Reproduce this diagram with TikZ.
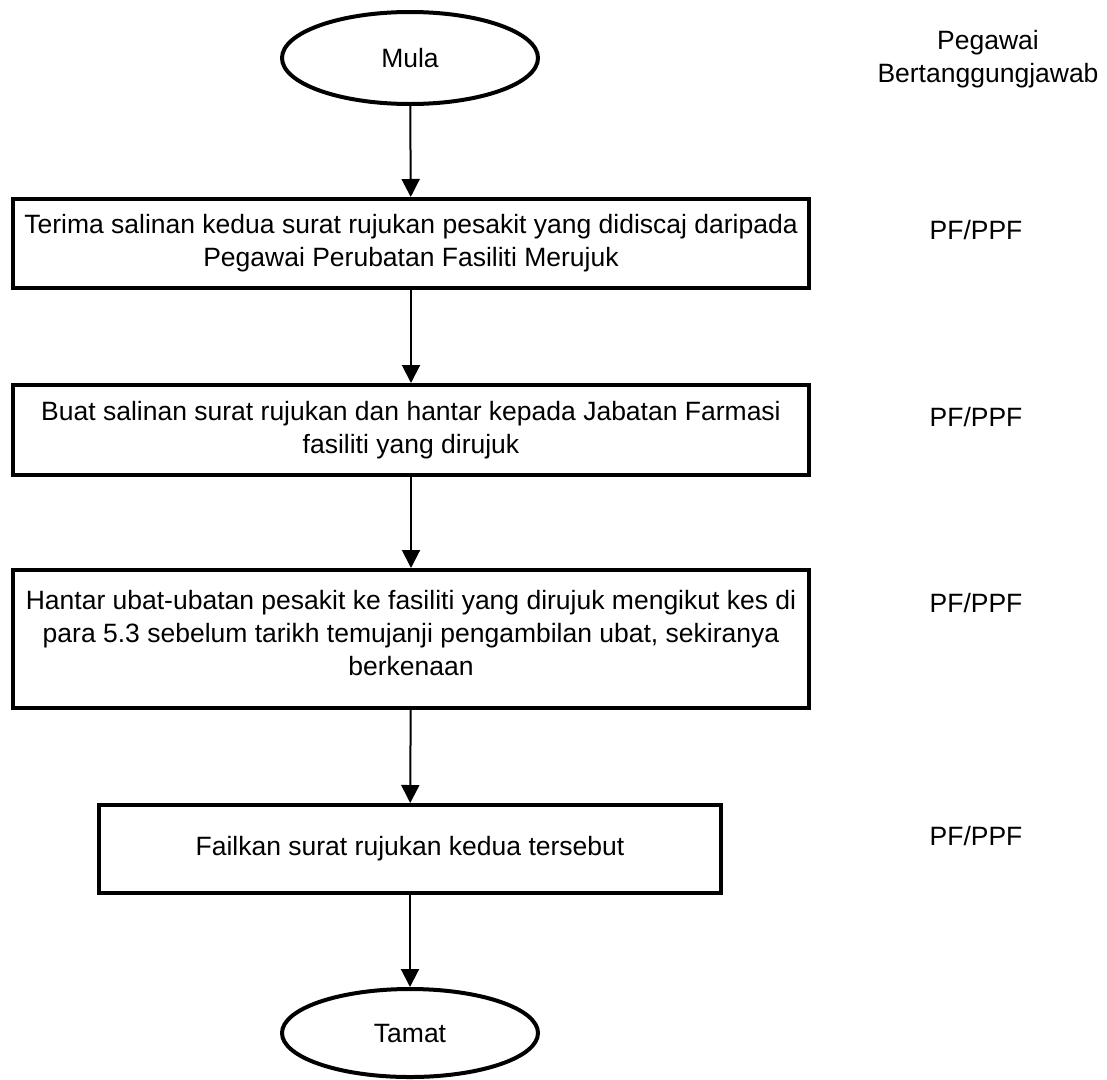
\documentclass[tikz,border=0pt]{standalone}
\usepackage{fontspec}
\setmainfont{Liberation Sans}
\usetikzlibrary{shapes.geometric,arrows.meta}
\begin{document}
\begin{tikzpicture}[x=1pt,y=-1pt,
  every node/.style={font=\fontsize{26.5}{33}\selectfont},
  term/.style={draw,ellipse,line width=4pt,minimum width=256pt,minimum height=92pt,inner sep=0pt},
  proc/.style={draw,rectangle,line width=4pt,align=center,inner sep=0pt},
  lbl/.style={align=center,inner sep=0pt},
  flow/.style={line width=2pt,-{Triangle[width=18pt,length=18pt]}}]
\useasboundingbox (0,0) rectangle (1107,1079);
\fill[white] (0,0) rectangle (1107,1079);

\node[term] (mula) at (410,58) {Mula};
\node[proc,minimum width=796pt,minimum height=89pt] (b1) at (411,243.5)
  {Terima salinan kedua surat rujukan pesakit yang didiscaj daripada\\Pegawai Perubatan Fasiliti Merujuk};
\node[proc,minimum width=796pt,minimum height=90pt] (b2) at (411,430)
  {Buat salinan surat rujukan dan hantar kepada Jabatan Farmasi\\fasiliti yang dirujuk};
\node[proc,minimum width=796pt,minimum height=138pt] (b3) at (411,639) {};
\node[lbl] (b3t) at (411,633)
  {Hantar ubat-ubatan pesakit ke fasiliti yang dirujuk mengikut kes di\\para 5.3 sebelum tarikh temujanji pengambilan ubat, sekiranya\\berkenaan};
\node[proc,minimum width=622pt,minimum height=88pt] (b4) at (410,849)
  {Failkan surat rujukan kedua tersebut};
\node[term,minimum height=88pt] (tamat) at (410,1033) {Tamat};

\node[lbl] (resp) at (988,59) {Pegawai\\Bertanggungjawab};
\node[lbl] (r1) at (976,230) {PF/PPF};
\node[lbl] (r2) at (976,417) {PF/PPF};
\node[lbl] (r3) at (976,603) {PF/PPF};
\node[lbl] (r4) at (976,836) {PF/PPF};

\draw[flow] (mula) -- (b1);
\draw[flow] (b1) -- (b2);
\draw[flow] (b2) -- (b3);
\draw[flow] (b3) -- (b4);
\draw[flow] (b4) -- (tamat);
\end{tikzpicture}
\end{document}
